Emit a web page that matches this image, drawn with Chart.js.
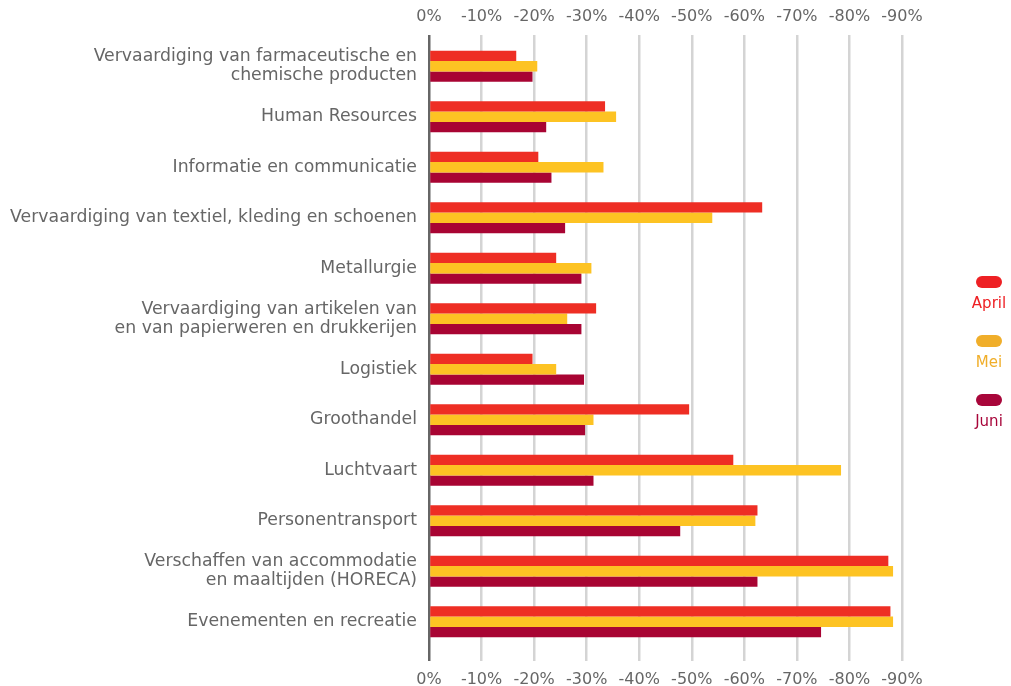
<!DOCTYPE html>
<html>
<head>
<meta charset="utf-8">
<script src="https://cdn.jsdelivr.net/npm/chart.js@4"></script>
<style>
    body { margin: 0; background: #fff; font-family: "DejaVu Sans", sans-serif; }
    #wrap { position: relative; width: 1011px; height: 686px; }
    #legend { position: absolute; left: 960px; top: 276px; width: 58px; }
    .item { text-align: center; margin-bottom: 23px; font-size: 15px; line-height: 18px; }
    .pill { width: 26px; height: 12px; border-radius: 6px; margin: 0 auto 6px; }
</style>
</head>
<body>
<div id="wrap">
    <canvas id="chart" width="1011" height="686"></canvas>
    <div id="legend"></div>
</div>
<script>
// Data
const categories = [
    ['Vervaardiging van farmaceutische en', 'chemische producten'],
    'Human Resources',
    'Informatie en communicatie',
    'Vervaardiging van textiel, kleding en schoenen',
    'Metallurgie',
    ['Vervaardiging van artikelen van', 'en van papierweren en drukkerijen'],
    'Logistiek',
    'Groothandel',
    'Luchtvaart',
    'Personentransport',
    ['Verschaffen van accommodatie', 'en maaltijden (HORECA)'],
    'Evenementen en recreatie'
];
const seriesNames = ['April', 'Mei', 'Juni'];
const april = [-16.6, -33.5, -20.8, -63.4, -24.2, -31.8, -19.7, -49.5, -57.9, -62.5, -87.4, -87.8];
const mei   = [-20.6, -35.6, -33.2, -53.9, -30.9, -26.3, -24.2, -31.3, -78.4, -62.1, -88.3, -88.3];
const juni  = [-19.7, -22.3, -23.3, -25.9, -29.0, -29.0, -29.5, -29.7, -31.3, -47.8, -62.5, -74.6];
const xTicks = [0, -10, -20, -30, -40, -50, -60, -70, -80, -90];

const barColors = ['#EE2E24', '#FDC323', '#A80433'];
const legendColors = ['#EE2024', '#F0AE2A', '#A8063A'];

const gridColor = ctx => (ctx.tick && ctx.tick.value === 0) ? '#666666' : '#D4D4D4';
const tickFont = { family: 'DejaVu Sans', size: 16 };

const baseX = {
    type: 'linear',
    min: -90,
    max: 0,
    reverse: true,
    afterBuildTicks: axis => { axis.ticks = xTicks.map(v => ({ value: v })); },
    ticks: {
        color: '#666666',
        font: tickFont,
        padding: 9,
        callback: v => v + '%'
    },
    border: { display: false }
};

new Chart(document.getElementById('chart').getContext('2d'), {
    type: 'bar',
    data: {
        labels: categories,
        datasets: [april, mei, juni].map((d, i) => ({
            label: seriesNames[i],
            data: d,
            backgroundColor: barColors[i],
            barPercentage: 1,
            categoryPercentage: 0.61
        }))
    },
    options: {
        indexAxis: 'y',
        responsive: false,
        animation: false,
        layout: { padding: { left: 0, right: 109, top: 0, bottom: 0 } },
        scales: {
            x: Object.assign({}, baseX, {
                position: 'top',
                grid: { color: gridColor, lineWidth: 2.5, tickLength: 6 },
                afterFit: s => { s.height = 41; }
            }),
            x2: Object.assign({}, baseX, {
                position: 'bottom',
                grid: { color: gridColor, lineWidth: 2.5, tickLength: 14, drawOnChartArea: false },
                afterFit: s => { s.height = 39; }
            }),
            y: {
                grid: { display: false, drawTicks: false },
                border: { display: false },
                afterFit: s => { s.width = 429; },
                ticks: {
                    color: '#666666',
                    font: { family: 'DejaVu Sans', size: 17.3, lineHeight: 1.1 },
                    padding: 12
                }
            }
        },
        plugins: {
            legend: { display: false },
            tooltip: { enabled: false }
        }
    }
});

// Legend on the right
const legend = document.getElementById('legend');
seriesNames.forEach((name, i) => {
    const item = document.createElement('div');
    item.className = 'item';
    item.style.color = legendColors[i];
    item.innerHTML = '<div class="pill" style="background:' + legendColors[i] + '"></div>' + name;
    legend.appendChild(item);
});
</script>
</body>
</html>
